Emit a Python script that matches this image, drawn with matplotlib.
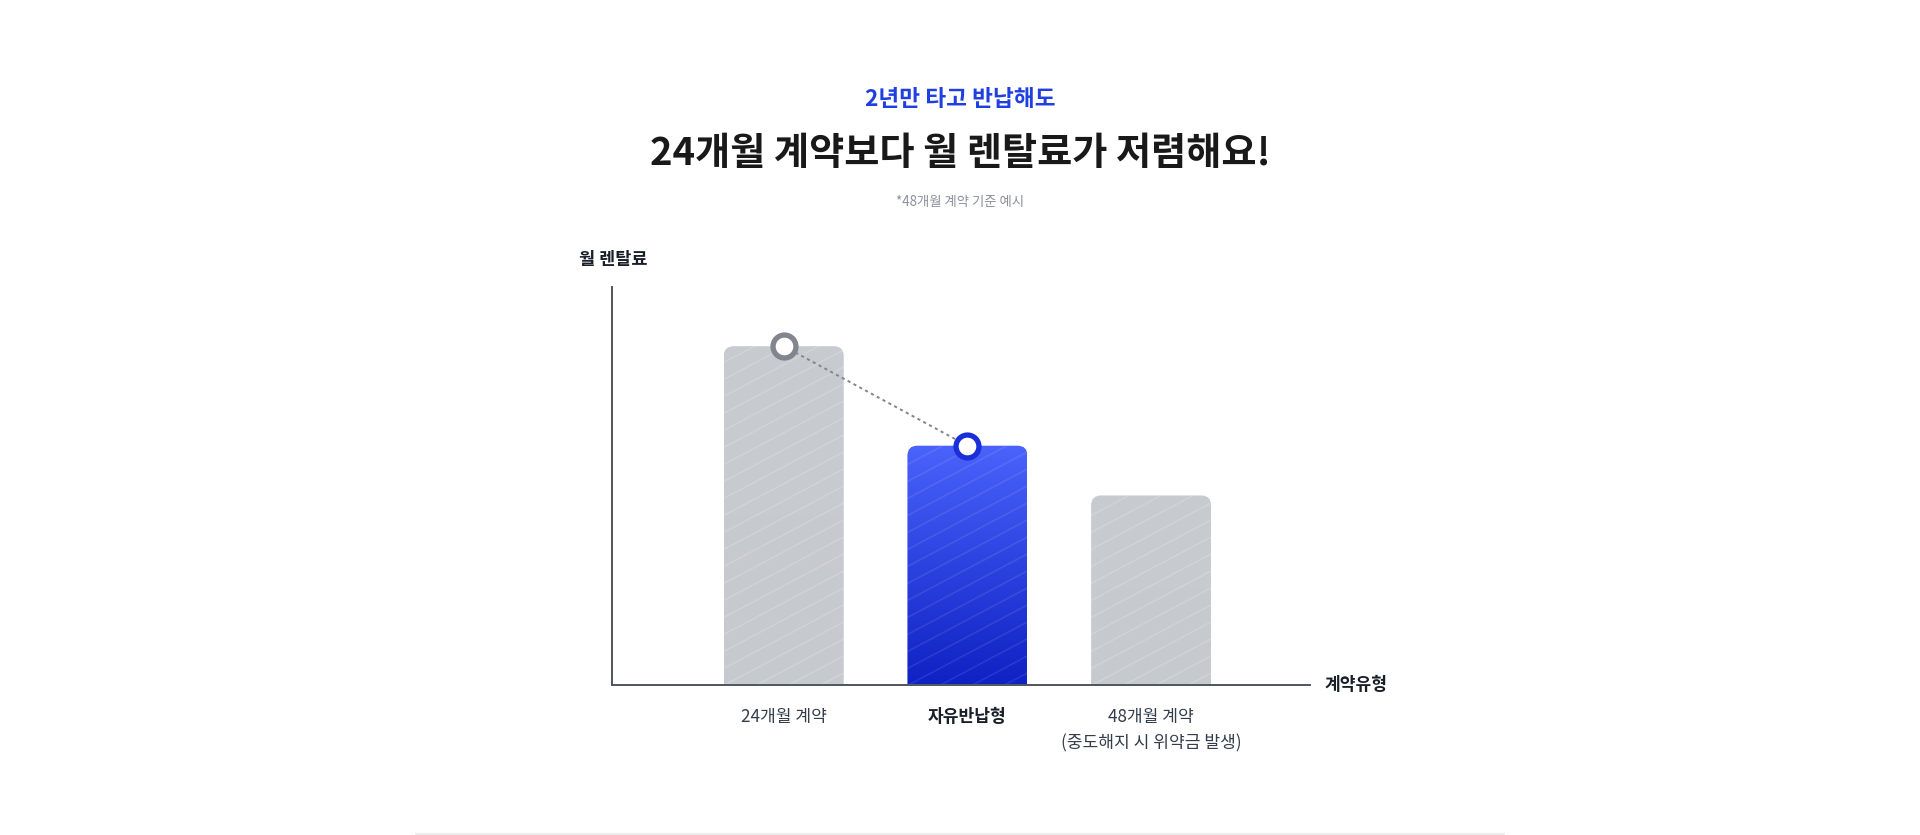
import numpy as np
import matplotlib
matplotlib.use("Agg")
import matplotlib.pyplot as plt
from matplotlib.path import Path
from matplotlib.patches import PathPatch
from matplotlib.colors import LinearSegmentedColormap

plt.rcParams['font.family'] = ['Noto Sans CJK KR', 'DejaVu Sans']

# 데이터
categories = ["24개월 계약", "자유반납형", "48개월 계약\n(중도해지 시 위약금 발생)"]
rent = [85, 60, 47.5]          # 월 렌탈료 (상대값)
highlight = [False, True, False]
marked = [0, 1]                # 원형 마커가 있는 막대

W, H = 1920, 835
fig = plt.figure(figsize=(W / 100, H / 100), dpi=100)
fig.patch.set_facecolor("white")


def fx(px):
    return px / W


def fy(py):
    return 1 - py / H


# 축 영역 (픽셀 기준)
ax_l, ax_r, ax_t, ax_b = 612, 1310, 286.5, 684.5
ax = fig.add_axes([fx(ax_l), fy(ax_b), fx(ax_r - ax_l), (ax_b - ax_t) / H])
ax.set_xlim(-0.935, 2.865)
ax.set_ylim(0, 100)
ax.axis("off")

px_x = (ax_r - ax_l) / 3.8      # 픽셀 / x 단위
px_y = (ax_b - ax_t) / 100      # 픽셀 / y 단위
bw = 120 / px_x
rx, ry = 10 / px_x, 10 / px_y

gray_cmap = LinearSegmentedColormap.from_list("g", ["#c6c9ce", "#c8cbd0"])
blue_cmap = LinearSegmentedColormap.from_list("b", ["#0f22c4", "#4a63fb"])

for i, (v, hl) in enumerate(zip(rent, highlight)):
    x0, x1 = i - bw / 2, i + bw / 2
    verts = [(x0, 0), (x0, v - ry), (x0, v), (x0 + rx, v), (x1 - rx, v),
             (x1, v), (x1, v - ry), (x1, 0), (x0, 0)]
    codes = [Path.MOVETO, Path.LINETO, Path.CURVE3, Path.CURVE3, Path.LINETO,
             Path.CURVE3, Path.CURVE3, Path.LINETO, Path.CLOSEPOLY]
    patch = PathPatch(Path(verts, codes), facecolor="none", edgecolor="none")
    ax.add_patch(patch)
    grad = np.linspace(0, 1, 256).reshape(-1, 1)
    im = ax.imshow(grad, cmap=blue_cmap if hl else gray_cmap, origin="lower",
                   extent=[x0, x1, 0, v], aspect="auto", zorder=1)
    im.set_clip_path(patch)
    # 사선 무늬
    hpx = v * px_y
    for off in np.arange(-120, hpx + 20, 17):
        xs = np.array([x0, x1])
        ys = (off + np.array([0, 120]) * 0.53) / px_y
        ln, = ax.plot(xs, ys, color="white", alpha=0.09 if hl else 0.16,
                      lw=1.2, zorder=2)
        ln.set_clip_path(patch)

# 점선 연결
ax.plot(marked, [rent[k] for k in marked], color="#80858e", lw=1.4,
        ls=(0, (1.6, 1.8)), zorder=3)
for k in marked:
    ec = "#1a2fd8" if highlight[k] else "#80858e"
    ax.plot(k, rent[k], marker="o", ms=16.5, mfc="white", mec=ec, mew=3.8,
            zorder=5, clip_on=False)

# 축선
axis_col = "#4e5460"
ax.plot([-0.935, -0.935], [0, 100], color=axis_col, lw=1.4, clip_on=False, zorder=4)
ax.plot([-0.935, 2.865], [0, 0], color=axis_col, lw=1.4, clip_on=False, zorder=4)

# 범주 라벨
for i, (c, hl) in enumerate(zip(categories, highlight)):
    fig.text(fx(783.7 + i * px_x), fy(708), c, ha="center", va="top",
             fontsize=12.3, fontweight="bold" if hl else "normal",
             color="#191f28" if hl else "#333d4b", linespacing=1.55)

# 축 제목
fig.text(fx(579), fy(259.5), "월 렌탈료", ha="left", va="center",
         fontsize=12.6, fontweight="bold", color="#191f28")
fig.text(fx(1325), fy(685.5), "계약유형", ha="left", va="center",
         fontsize=12.3, fontweight="bold", color="#191f28")

# 제목
fig.text(0.5, fy(99.5), "2년만 타고 반납해도", ha="center", va="center",
         fontsize=16.3, fontweight="bold", color="#1f3fe0")
fig.text(0.5, fy(153.5), "24개월 계약보다 월 렌탈료가 저렴해요!", ha="center",
         va="center", fontsize=27.5, fontweight="heavy", color="#191919")
fig.text(0.5, fy(202), "*48개월 계약 기준 예시", ha="center", va="center",
         fontsize=9.6, color="#8b9099")

# 하단 구분선
fig.add_artist(plt.Line2D([fx(416), fx(1504)], [fy(834), fy(834)],
                          color="#eeeeee", lw=1.5))

fig.savefig("out.png", dpi=100, facecolor="white")
